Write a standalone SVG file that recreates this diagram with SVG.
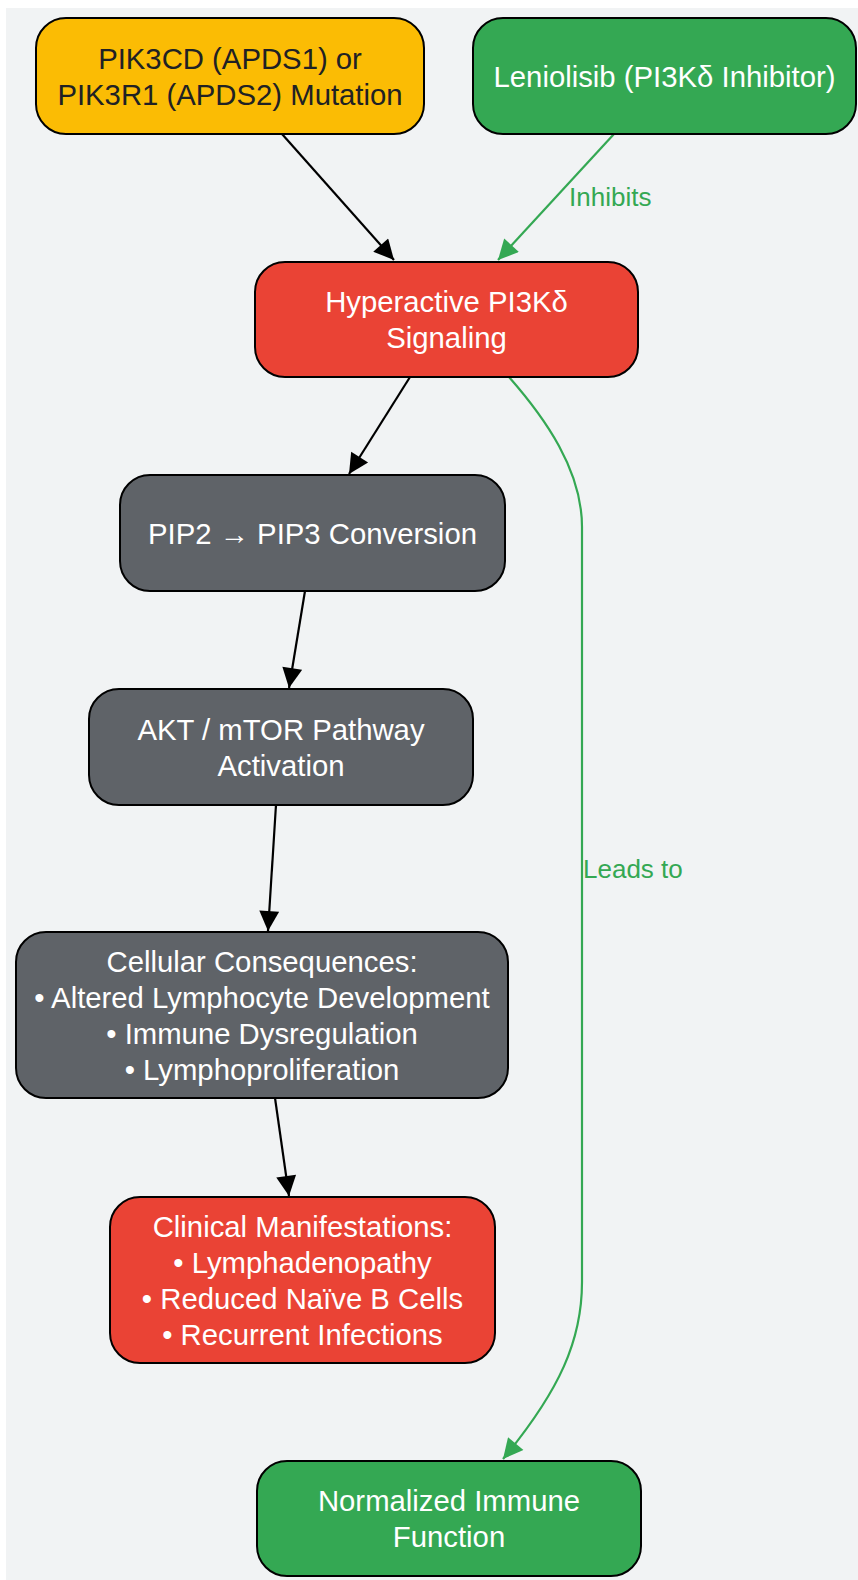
<svg xmlns="http://www.w3.org/2000/svg" width="858" height="1580" viewBox="0 0 858 1580">
<style>
.node rect{stroke:#000;stroke-width:2}
.node text{font-family:"Liberation Sans",Arial,sans-serif;font-size:29.3px;text-anchor:middle;fill:#fff}
.yellow rect{fill:#FBBC04}
.yellow text{fill:#202124}
.green rect{fill:#34A853}
.red rect{fill:#EA4335}
.gray rect{fill:#5F6368}
.edge{fill:none;stroke-width:2.2}
.blk{stroke:#000}
.grn{stroke:#34A853}
.lbl{font-family:"Liberation Sans",Arial,sans-serif;font-size:26px;fill:#34A853}
</style>
<defs>
<marker id="ab" viewBox="0 0 10 10" refX="10" refY="5" markerWidth="24" markerHeight="20" markerUnits="userSpaceOnUse" orient="auto"><path d="M0,0 L10,5 L0,10 z" fill="#000"/></marker>
<marker id="ag" viewBox="0 0 10 10" refX="10" refY="5" markerWidth="24" markerHeight="20" markerUnits="userSpaceOnUse" orient="auto"><path d="M0,0 L10,5 L0,10 z" fill="#34A853"/></marker>
</defs>
<rect x="6" y="8" width="852" height="1572" fill="#F1F3F4"/>
<g id="connectors">
<path class="edge blk" d="M282,134 L394,260" marker-end="url(#ab)"/>
<path class="edge grn" d="M614,134 L498,260" marker-end="url(#ag)"/>
<text class="lbl" x="569" y="206">Inhibits</text>
<path class="edge blk" d="M410,377 L349,474" marker-end="url(#ab)"/>
<path class="edge blk" d="M305,591 L289,688" marker-end="url(#ab)"/>
<path class="edge blk" d="M276,805 L268,931" marker-end="url(#ab)"/>
<path class="edge blk" d="M275,1098 L289,1196" marker-end="url(#ab)"/>
<path class="edge grn" d="M509,377 C545,418 582,470 582,527 L582,1282 C582,1340 560,1390 503,1459" marker-end="url(#ag)"/>
<text class="lbl" x="583" y="878">Leads to</text>
</g>
<g id="n1" class="node yellow">
<rect x="36" y="18" width="388" height="116" rx="30"/>
<text x="230" y="68.5">PIK3CD (APDS1) or</text>
<text x="230" y="104.5">PIK3R1 (APDS2) Mutation</text>
</g>
<g id="n2" class="node green">
<rect x="473" y="18" width="383" height="116" rx="30"/>
<text x="664.5" y="86.5">Leniolisib (PI3Kδ Inhibitor)</text>
</g>
<g id="n3" class="node red">
<rect x="255" y="262" width="383" height="115" rx="30"/>
<text x="446.5" y="312">Hyperactive PI3Kδ</text>
<text x="446.5" y="348">Signaling</text>
</g>
<g id="n4" class="node gray">
<rect x="120" y="475" width="385" height="116" rx="30"/>
<text x="312.5" y="543.5">PIP2 → PIP3 Conversion</text>
</g>
<g id="n5" class="node gray">
<rect x="89" y="689" width="384" height="116" rx="30"/>
<text x="281" y="739.5">AKT / mTOR Pathway</text>
<text x="281" y="775.5">Activation</text>
</g>
<g id="n6" class="node gray">
<rect x="16" y="932" width="492" height="166" rx="30"/>
<text x="262" y="971.5">Cellular Consequences:</text>
<text x="262" y="1007.5">• Altered Lymphocyte Development</text>
<text x="262" y="1043.5">• Immune Dysregulation</text>
<text x="262" y="1079.5">• Lymphoproliferation</text>
</g>
<g id="n7" class="node red">
<rect x="110" y="1197" width="385" height="166" rx="30"/>
<text x="302.5" y="1236.5">Clinical Manifestations:</text>
<text x="302.5" y="1272.5">• Lymphadenopathy</text>
<text x="302.5" y="1308.5">• Reduced Naïve B Cells</text>
<text x="302.5" y="1344.5">• Recurrent Infections</text>
</g>
<g id="n8" class="node green">
<rect x="257" y="1461" width="384" height="115" rx="30"/>
<text x="449" y="1511">Normalized Immune</text>
<text x="449" y="1547">Function</text>
</g>
</svg>
